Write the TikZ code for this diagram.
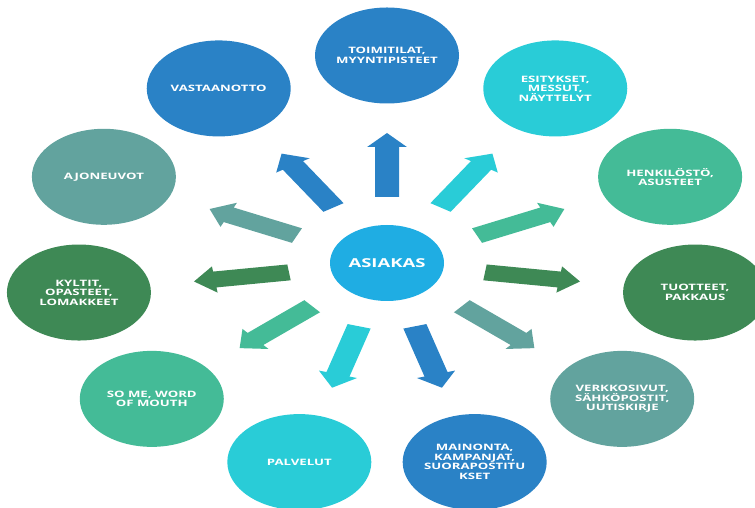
\documentclass[tikz,border=0pt]{standalone}
\usepackage{fontspec}
\setmainfont{Open Sans}
\definecolor{cblue}{HTML}{2A82C6}
\definecolor{ccyan}{HTML}{29CCD7}
\definecolor{csea}{HTML}{44BB97}
\definecolor{cdark}{HTML}{3E8955}
\definecolor{cteal}{HTML}{62A39E}
\definecolor{ccenter}{HTML}{1FADE3}
\begin{document}
\begin{tikzpicture}[x=1pt,y=1pt]
\useasboundingbox (0,0) rectangle (755,508);
\begin{scope}[shift={(387,245)}, xscale=1.5, transform shape]
\tikzset{
  bubble/.style={circle, minimum size=96pt, inner sep=0pt, text=white,
    font=\bfseries\fontsize{8.8}{9.5}\selectfont, align=center},
  hub/.style={circle, minimum size=76pt, inner sep=0pt, text=white,
    fill=ccenter, font=\bfseries\fontsize{12.3}{13}\selectfont}
}
\node[hub] (c) at (0,0) {ASIAKAS};
\foreach \k/\col/\txt in {
  0/cblue/{TOIMITILAT,\\MYYNTIPISTEET},
  1/ccyan/{ESITYKSET,\\MESSUT,\\NÄYTTELYT},
  2/csea/{HENKILÖSTÖ,\\ASUSTEET},
  3/cdark/{TUOTTEET,\\PAKKAUS},
  4/cteal/{VERKKOSIVUT,\\SÄHKÖPOSTIT,\\UUTISKIRJE},
  5/cblue/{MAINONTA,\\KAMPANJAT,\\SUORAPOSTITU\\KSET},
  6/ccyan/{PALVELUT},
  7/csea/{SO ME, WORD\\OF MOUTH},
  8/cdark/{KYLTIT,\\OPASTEET,\\LOMAKKEET},
  9/cteal/{AJONEUVOT},
  10/cblue/{VASTAANOTTO}} {
  \node[bubble, fill=\col] (n\k) at ({90-\k*360/11}:207.5) {\txt};
  \fill[\col, rotate={90-\k*360/11}]
    (66,-8) -- (116,-8) -- (116,-13.25) -- (130,0) -- (116,13.25)
    -- (116,8) -- (66,8) -- cycle;
}
\end{scope}
\end{tikzpicture}
\end{document}
